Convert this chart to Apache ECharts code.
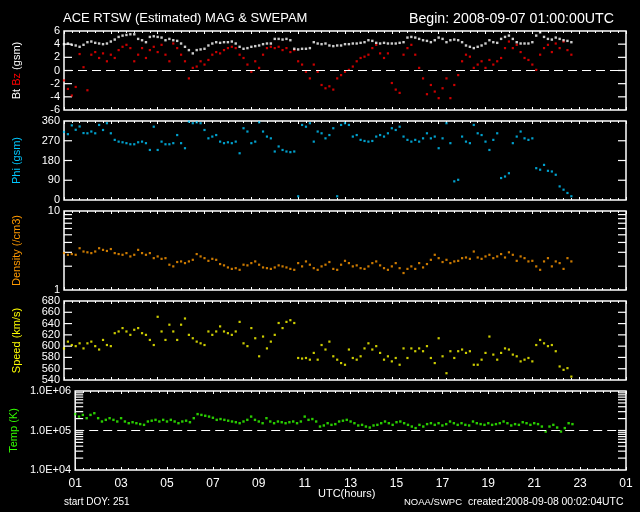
<!DOCTYPE html>
<html><head><meta charset="utf-8">
<script src="https://cdn.jsdelivr.net/npm/echarts@6/dist/echarts.min.js"></script>
<style>html,body{margin:0;background:#000}#c{width:640px;height:512px}</style>
</head><body><div id="c"></div>
<script>
// Time axis: hours since 2008-09-07 01:00 UTC, one sample every 10 minutes
const sampleStepHours = 1/6;
const bt = [4.0,4.1,3.9,3.8,3.6,3.9, 4.3,4.4,4.2,4.1,4.0,4.1, 4.4,4.7,5.1,5.3,5.4,5.5, 5.5,4.8,4.6,4.3,5.1,5.2,
  5.1,5.0,4.6,4.8,4.6,4.5, 4.1,3.6,3.1,2.6,3.1,3.2, 3.3,3.8,4.1,4.3,4.2,4.3, 4.3,4.4,4.1,3.6,3.3,3.4,
  3.6,3.7,3.8,4.0,4.1,4.1, 4.8,4.8,4.7,4.8,4.6,3.3, 3.2,3.3,3.3,3.4,4.3,4.1, 4.0,4.1,3.8,3.7,3.8,3.8,
  4.0,4.0,4.1,4.1,4.2,4.3, 4.6,4.5,4.2,4.1,4.2,4.1, 4.1,4.1,4.2,4.3,5.0,5.1, 5.0,4.8,4.6,4.5,4.3,4.6,
  5.0,4.8,4.3,4.6,4.7,4.6, 4.3,3.8,3.6,3.4,3.6,3.8, 4.1,4.6,4.3,4.2,4.8,5.1, 5.3,4.8,4.3,4.1,4.1,4.1,
  4.3,5.3,5.8,5.1,4.8,4.7, 5.0,4.8,4.6,4.5,4.3];
const bz = [-1.5,-2.8,-3.8,-2.5,2.5,0.5, -3.0,2.4,2.8,1.9,2.6,1.4, 2.4,1.9,3.1,3.6,3.9,3.4, 1.4,2.4,3.4,1.9,3.1,3.6,
  2.8,3.9,2.4,1.4,4.1,3.4, 2.4,1.4,-1.2,0.4,0.6,1.4, 0.9,1.6,2.4,2.8,2.6,3.1, 3.4,3.6,3.4,2.4,1.9,0.9,
  -0.2,1.4,0.4,2.4,3.4,3.6, 3.4,3.6,3.1,3.4,2.8,3.1, 1.4,0.9,-0.2,-1.2,0.9,-0.2, -2.2,-2.7,-2.4,-2.9,-1.2,-0.7,
  -0.2,0.1,0.6,1.4,1.9,2.1, 2.4,3.4,3.9,2.6,1.9,2.6, -1.9,-2.9,-3.4,2.4,3.4,3.9, 2.4,0.4,-1.2,-3.6,-2.2,-3.2,
  -4.2,-2.7,-1.2,-4.2,-2.2,-0.7, 1.4,2.4,2.1,0.4,0.9,1.4, 0.4,1.6,0.9,1.4,1.9,3.4, 4.4,3.4,3.9,2.8,1.9,1.6,
  0.9,0.1,2.4,3.4,3.9,2.8, 4.1,3.4,4.4,3.1,2.4];
const phi = [310,300,340,320,335,305, 304,312,304,342,319,350, 304,274,266,263,259,254, 254,263,266,259,228,334,
  228,266,254,254,259,296, 259,236,357,350,354,350, 319,281,289,296,266,259, 263,259,266,213,327,312,
  259,266,354,312,289,281, 221,244,228,221,218,221, 17,342,334,350,266,312, 304,281,296,327,17,342,
  350,342,289,296,274,269, 266,269,289,296,289,304, 327,319,334,289,274,266, 274,266,281,304,281,289,
  236,281,350,259,85,92, 289,266,259,342,304,296, 266,228,274,304,100,107, 122,259,289,312,281,274,
  281,145,138,160,133,130, 115,62,47,32,17];
const density = [2.93,2.79,2.85,2.79,3.38,3.07, 3.0,2.93,3.07,3.38,3.22,3.12, 3.3,2.93,2.85,2.79,2.93,2.66, 2.79,3.22,2.93,2.79,2.93,2.53,
  2.66,2.48,2.53,2.09,1.99,2.26, 2.3,2.19,2.3,2.41,2.85,2.66, 2.53,2.34,2.48,2.41,2.13,2.05, 1.93,1.85,1.89,1.80,2.09,2.05,
  2.19,2.3,2.09,1.93,1.89,1.85, 1.93,2.05,1.99,1.93,1.85,1.80, 2.19,1.99,2.3,2.09,1.89,1.80, 1.99,2.09,2.26,1.85,1.80,2.09,
  2.34,2.19,1.99,2.05,1.89,1.85, 1.99,2.19,2.3,2.05,1.89,1.80, 1.99,2.19,1.89,1.64,1.85,1.99, 1.85,2.19,1.93,2.13,2.41,2.79,
  2.53,2.26,2.41,2.19,2.3,2.34, 2.53,2.58,2.48,3.07,2.58,2.48, 2.66,2.79,2.53,2.66,2.85,2.58, 3.0,2.79,2.34,2.66,2.53,2.3,
  2.34,1.99,1.80,2.3,2.53,1.99, 2.3,2.19,1.85,2.53,2.3];
const speed = [596,608,602,600,605,596, 605,608,600,594,611,602, 600,623,626,632,626,620, 629,632,623,620,611,602,
  652,626,611,638,626,611, 638,649,620,614,608,605, 602,626,620,626,635,626, 623,620,626,643,605,600,
  632,614,582,617,596,608, 620,641,632,643,646,641, 579,578,579,576,588,576, 602,594,608,582,576,570,
  567,594,579,576,582,596, 605,594,600,588,576,582, 573,579,567,596,579,596, 591,596,591,600,579,570,
  614,582,552,591,579,591, 594,588,591,567,567,576, 588,617,585,576,588,596, 594,585,582,573,576,579,
  573,602,611,605,600,602, 591,564,558,561,546];
const temp = [2.6e5,2.25e5,2.48e5,2.05e5,2.48e5,2.74e5, 2.05e5,1.69e5,1.86e5,2.05e5,1.86e5,1.69e5, 2.05e5,1.69e5,1.53e5,1.62e5,1.53e5,1.45e5,
  1.39e5,1.69e5,1.77e5,1.86e5,1.69e5,1.86e5, 1.69e5,1.86e5,1.69e5,1.53e5,1.69e5,1.77e5, 1.62e5,2.05e5,2.6e5,2.48e5,2.36e5,2.25e5,
  2.1e5,1.86e5,1.95e5,1.86e5,1.77e5,1.69e5, 1.62e5,1.53e5,1.69e5,1.86e5,2.25e5,1.86e5, 1.69e5,1.53e5,2.05e5,1.69e5,1.53e5,1.69e5,
  1.62e5,1.53e5,1.62e5,1.69e5,1.53e5,1.69e5, 2.25e5,1.86e5,1.95e5,1.69e5,1.26e5,1.34e5, 1.53e5,1.39e5,1.45e5,1.69e5,1.77e5,1.86e5,
  1.69e5,1.53e5,1.34e5,1.39e5,1.26e5,1.19e5, 1.34e5,1.39e5,1.53e5,1.69e5,1.53e5,1.39e5, 1.62e5,1.69e5,1.53e5,1.39e5,1.26e5,1.15e5,
  1.39e5,1.26e5,1.45e5,1.53e5,1.39e5,1.53e5, 1.34e5,1.45e5,1.69e5,1.53e5,1.39e5,1.53e5, 1.39e5,1.34e5,1.69e5,1.53e5,1.45e5,1.39e5,
  1.53e5,1.39e5,1.45e5,1.53e5,1.69e5,1.53e5, 1.34e5,1.45e5,1.39e5,1.62e5,1.53e5,1.39e5, 1.53e5,1.45e5,1.26e5,0.94e5,1.26e5,1.39e5,
  1.19e5,0.94e5,1.15e5,1.53e5,1.45e5];

// tick marks and tick labels
const btTicks = [-4,-2,0,2,4];
const phiTicks = [90,180,270];
const densityTicks = [2,3,4,5,6,7,8,9];
const densityLabels = [1,10];
const speedTicks = [560,580,600,620,640,660];
const tempTicks = [2e4,3e4,4e4,5e4,6e4,7e4,8e4,9e4,1e5,2e5,3e5,4e5,5e5,6e5,7e5,8e5,9e5];
const tempLabels = [1e4,1e5,1e6];
const tempLabelText = ['1.0E+04','1.0E+05','1.0E+06'];

const times = bt.map((_, i) => i * sampleStepHours);
const FONT = 'Liberation Sans';
const W = '#ffffff';
const X_MIN = 0, X_MAX = 24;
const TICK_LEN = 8;
const tops = [31,121,211,301,391];

const grids = tops.map(t => ({left:64, right:14, top:t, height:79, show:true, borderColor:W, borderWidth:1.5, backgroundColor:'transparent'}));

const xAxes = tops.map((t,k) => ({
  gridIndex:k, type:'value', position:'bottom', min:X_MIN, max:X_MAX, interval:2,
  axisLine:{show:false, onZero:false},
  axisTick:{show:true, inside:true, length:3, lineStyle:{color:W}},
  minorTick:{show:true, splitNumber:6, length:2, lineStyle:{color:W}},
  splitLine:{show:false},
  axisLabel:{show: k===4, color:W, fontFamily:FONT, fontSize:12, margin:8,
    formatter: v => String((Math.round(v)+1)%24).padStart(2,'0')}
})).concat(tops.map((t,k) => ({
  gridIndex:k, type:'value', position:'top', min:X_MIN, max:X_MAX, interval:2,
  axisLine:{show:false, onZero:false},
  axisTick:{show:true, inside:true, length:3, lineStyle:{color:W}},
  minorTick:{show:true, splitNumber:6, length:2, lineStyle:{color:W}},
  splitLine:{show:false}, axisLabel:{show:false}
})));

function yAxis(k, scale, name, nameStyle, labelExtra){
  return Object.assign({gridIndex:k, position:'left', axisLine:{show:false, onZero:false}, splitLine:{show:false},
    name:name, nameLocation:'middle', nameGap:42, nameRotate:90,
    nameTextStyle:Object.assign({fontFamily:FONT, fontSize:11}, nameStyle),
    axisTick:{show:false},
    axisLabel:Object.assign({color:W, fontFamily:FONT, fontSize:11, margin:4, showMinLabel:true, showMaxLabel:true}, labelExtra||{})
  }, scale);
}

const yAxes = [
  yAxis(0, {type:'value', min:-6, max:6, interval:2},
    '{w|Bt} {r|Bz} {w|(gsm)}', {rich:{w:{color:W, fontFamily:FONT, fontSize:11}, r:{color:'#ff0000', fontFamily:FONT, fontSize:11}}}),
  yAxis(1, {type:'value', min:0, max:360, interval:90}, 'Phi (gsm)', {color:'#00c8ff'}),
  yAxis(2, {type:'log', min:1, max:10, logBase:10}, 'Density (/cm3)', {color:'#ff9900'}, {customValues:densityLabels}),
  yAxis(3, {type:'value', min:540, max:680, interval:20}, 'Speed (km/s)', {color:'#ffff00'}),
  yAxis(4, {type:'log', min:1e4, max:1e6, logBase:10}, 'Temp (K)', {color:'#33ff00'},
    {customValues:tempLabels, formatter: v => tempLabelText[tempLabels.findIndex(x => Math.abs(Math.log10(x)-Math.log10(v))<0.01)]})
];

function sc(k, arr, color, size, extra){
  return Object.assign({type:'scatter', xAxisIndex:k, yAxisIndex:k, symbol:'rect', symbolSize:size,
    itemStyle:{color:color}, silent:true, animation:false,
    data: times.map((t,i) => [t, arr[i]])}, extra||{});
}
// y-axis tick marks on both frame edges, placed through the axis scale
function tickSeries(k, ticks){
  return {type:'custom', xAxisIndex:k, yAxisIndex:k, silent:true, animation:false, clip:false,
    encode:{x:0, y:1},
    data: ticks.map(v => [X_MIN, v]),
    renderItem:(params, api) => {
      const v = api.value(1);
      const pL = api.coord([X_MIN, v]);
      const pR = api.coord([X_MAX, v]);
      const st = {stroke:W, lineWidth:1.2};
      return {type:'group', children:[
        {type:'line', shape:{x1:pL[0], y1:pL[1], x2:pL[0]+TICK_LEN, y2:pL[1]}, style:st},
        {type:'line', shape:{x1:pR[0]-TICK_LEN, y1:pR[1], x2:pR[0], y2:pR[1]}, style:st}
      ]};
    }};
}
const dashed = v => ({markLine:{silent:true, symbol:['none','none'], label:{show:false},
  lineStyle:{color:W, type:[9,5], width:1.2}, data:[{yAxis:v}], animation:false}});

const option = {
  backgroundColor:'#000',
  animation:false,
  title:[
    {text:'ACE RTSW (Estimated) MAG & SWEPAM', left:63, top:12, padding:0, textStyle:{color:W, fontFamily:FONT, fontSize:13, fontWeight:'normal'}},
    {text:'Begin: 2008-09-07 01:00:00UTC', right:26, top:12, padding:0, textStyle:{color:W, fontFamily:FONT, fontSize:14.2, fontWeight:'normal'}},
    {text:'UTC(hours)', left:318, top:488, padding:0, textStyle:{color:W, fontFamily:FONT, fontSize:11, fontWeight:'normal'}},
    {text:'start DOY: 251', left:64, top:497, padding:0, textStyle:{color:W, fontFamily:FONT, fontSize:10, fontWeight:'normal'}},
    {text:'NOAA/SWPC', left:404, top:497, padding:0, textStyle:{color:W, fontFamily:FONT, fontSize:9.5, fontWeight:'normal'}},
    {text:'created:2008-09-08 00:02:04UTC', left:468, top:497, padding:0, textStyle:{color:W, fontFamily:FONT, fontSize:10.4, fontWeight:'normal'}}
  ],
  grid:grids, xAxis:xAxes, yAxis:yAxes,
  series:[
    sc(0, bz, '#ff0000', 2.2, dashed(0)),
    sc(0, bt, '#ffffff', 2.4),
    sc(1, phi, '#00c8ff', 2.2),
    sc(2, density, '#ff9900', 2.2),
    sc(3, speed, '#ffff00', 2.2),
    sc(4, temp, '#33ff00', 2.4, dashed(1e5)),
    tickSeries(0, btTicks),
    tickSeries(1, phiTicks),
    tickSeries(2, densityTicks),
    tickSeries(3, speedTicks),
    tickSeries(4, tempTicks)
  ]
};
const chart = echarts.init(document.getElementById('c'));
chart.setOption(option);
</script></body></html>
